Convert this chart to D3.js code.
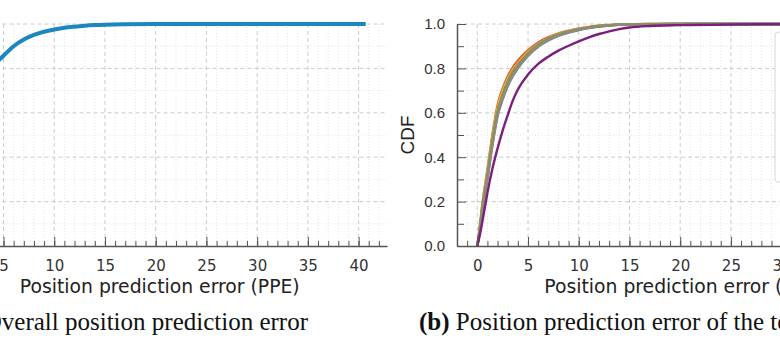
<!DOCTYPE html>
<html>
<head>
<meta charset="utf-8">
<title>Position prediction error CDF</title>
<script src="https://cdn.jsdelivr.net/npm/d3@7"></script>
<style>
body { margin: 0; background: #fff; }
.grid-minor line { stroke: #e3e3e3; stroke-dasharray: 1,2; }
.grid-major line { stroke: #cccccc; stroke-dasharray: 4,3; }
.axis path, .axis line { stroke: #555; }
.xaxis text { font-family: "DejaVu Sans", sans-serif; font-size: 15px; fill: #333; }
.yaxis text { font-family: "Liberation Sans", Arial, sans-serif; font-size: 15px; fill: #333; }
.xtitle { font-family: "DejaVu Sans", sans-serif; font-size: 18.8px; fill: #222; }
.ytitle { font-family: "Liberation Sans", Arial, sans-serif; font-size: 19px; fill: #222; }
.caption { font-family: "Liberation Serif", serif; font-size: 25px; fill: #111; }
</style>
</head>
<body>
<svg id="chart" width="780" height="348"></svg>
<script>

// (a) overall PPE, one curve
var overallX   = [0, 0.25, 0.5, 0.75, 1, 1.5, 2, 2.5, 3, 3.5, 4, 5, 6, 7, 8, 9, 10, 11, 12, 13, 14, 15, 17, 20, 25, 30, 40.7];
var overallCdf = [0, 0.08, 0.17, 0.245, 0.315, 0.47, 0.6, 0.675, 0.735, 0.78, 0.81, 0.857, 0.9, 0.93, 0.951, 0.965, 0.975, 0.983, 0.988, 0.992, 0.995, 0.997, 0.999, 1, 1, 1, 1];

// (b) per test set, same x grid for every curve
var testX = [0, 0.25, 0.5, 0.75, 1, 1.5, 2, 2.5, 3, 3.5, 4, 5, 6, 7, 8, 9, 10, 11, 12, 13, 14, 15, 17, 20, 25, 30, 43];
var cdfOrange = [0, 0.09, 0.19, 0.27, 0.345, 0.505, 0.635, 0.71, 0.765, 0.805, 0.835, 0.882, 0.917, 0.941, 0.958, 0.97, 0.98, 0.987, 0.993, 0.996, 0.998, 0.999, 1, 1, 1, 1, 1];
var cdfYellow = [0, 0.085, 0.185, 0.262, 0.335, 0.492, 0.622, 0.698, 0.753, 0.793, 0.823, 0.873, 0.91, 0.936, 0.955, 0.968, 0.978, 0.986, 0.992, 0.995, 0.997, 0.999, 1, 1, 1, 1, 1];
var cdfGreen  = [0, 0.08, 0.175, 0.25, 0.32, 0.475, 0.605, 0.68, 0.74, 0.785, 0.815, 0.868, 0.907, 0.934, 0.953, 0.966, 0.977, 0.985, 0.991, 0.995, 0.997, 0.998, 1, 1, 1, 1, 1];
var cdfTeal   = [0, 0.075, 0.17, 0.245, 0.315, 0.47, 0.6, 0.675, 0.735, 0.78, 0.812, 0.865, 0.905, 0.932, 0.951, 0.965, 0.976, 0.984, 0.99, 0.994, 0.997, 0.998, 0.999, 1, 1, 1, 1];
var cdfBlue   = [0, 0.068, 0.155, 0.23, 0.3, 0.455, 0.585, 0.66, 0.72, 0.765, 0.8, 0.856, 0.897, 0.926, 0.947, 0.961, 0.973, 0.982, 0.989, 0.993, 0.996, 0.998, 0.999, 1, 1, 1, 1];
var cdfTan    = [0, 0.07, 0.162, 0.237, 0.307, 0.462, 0.592, 0.667, 0.727, 0.772, 0.806, 0.86, 0.9, 0.929, 0.949, 0.963, 0.975, 0.984, 0.99, 0.994, 0.996, 0.998, 0.999, 1, 1, 1, 1];
var cdfGray   = [0, 0.078, 0.172, 0.248, 0.318, 0.472, 0.602, 0.678, 0.738, 0.782, 0.814, 0.866, 0.905, 0.932, 0.952, 0.965, 0.976, 0.984, 0.99, 0.994, 0.997, 0.998, 0.999, 1, 1, 1, 1];
var cdfPurple = [0, 0.05, 0.11, 0.175, 0.24, 0.35, 0.44, 0.52, 0.59, 0.655, 0.705, 0.772, 0.82, 0.853, 0.88, 0.902, 0.922, 0.94, 0.955, 0.967, 0.977, 0.984, 0.991, 0.995, 0.998, 0.999, 1];

var testSeries = [
  { name: "orange", cdf: cdfOrange, color: "#e3602f" },
  { name: "yellow", cdf: cdfYellow, color: "#e2b72c" },
  { name: "green",  cdf: cdfGreen,  color: "#7aa843" },
  { name: "teal",   cdf: cdfTeal,   color: "#3a9fae" },
  { name: "blue",   cdf: cdfBlue,   color: "#5a80bd" },
  { name: "tan",    cdf: cdfTan,    color: "#a98b5c" },
  { name: "gray",   cdf: cdfGray,   color: "#8b8d6c" },
  { name: "purple", cdf: cdfPurple, color: "#7b1f7f" }
];

var xTicks = [0, 5, 10, 15, 20, 25, 30, 35, 40];
var yTicks = [0, 0.2, 0.4, 0.6, 0.8, 1.0];

var xTitle = "Position prediction error (PPE)";
var yTitle = "CDF";

var svg = d3.select("#chart");

var xDomain = [-2, 42.8],
    plotW = 454.5,
    plotTop = 24,
    plotBottom = 246;

var y = d3.scaleLinear().domain([0, 1]).range([plotBottom, plotTop]);

function drawPanel(left, lines, lineWidth, showY, caption, captionBold, captionX, captionAnchor) {
  var x = d3.scaleLinear().domain(xDomain).range([left, left + plotW]);
  var g = svg.append("g");

  // grid
  var minor = g.append("g").attr("class", "grid-minor");
  minor.selectAll("line.v").data(d3.range(-1, 43).filter(function(d) { return d % 5 != 0; }))
    .enter().append("line")
      .attr("x1", function(d) { return x(d); }).attr("x2", function(d) { return x(d); })
      .attr("y1", plotTop).attr("y2", plotBottom);
  minor.selectAll("line.h").data([0.1, 0.3, 0.5, 0.7, 0.9])
    .enter().append("line")
      .attr("x1", x.range()[0]).attr("x2", x.range()[1])
      .attr("y1", function(d) { return y(d); }).attr("y2", function(d) { return y(d); });

  var major = g.append("g").attr("class", "grid-major");
  major.selectAll("line.v").data(xTicks)
    .enter().append("line")
      .attr("x1", function(d) { return x(d); }).attr("x2", function(d) { return x(d); })
      .attr("y1", plotTop).attr("y2", plotBottom);
  major.selectAll("line.h").data(yTicks.slice(1))
    .enter().append("line")
      .attr("x1", x.range()[0]).attr("x2", x.range()[1])
      .attr("y1", function(d) { return y(d); }).attr("y2", function(d) { return y(d); });

  // curves
  var line = d3.line().curve(d3.curveMonotoneX);
  lines.forEach(function(s) {
    g.append("path")
      .datum(s.x.map(function(v, i) { return [x(v), y(s.cdf[i])]; }))
      .attr("fill", "none")
      .attr("stroke", s.color)
      .attr("stroke-width", lineWidth)
      .attr("stroke-linejoin", "round")
      .attr("d", line);
  });

  // axes, ticks point inward
  g.append("g").attr("class", "axis xaxis")
    .attr("transform", "translate(0," + plotBottom + ")")
    .call(d3.axisBottom(x).tickValues(d3.range(-1, 43)).tickSize(-5).tickFormat(""))
    .call(function(a) { a.select(".domain").remove(); });
  g.append("g").attr("class", "axis xaxis")
    .attr("transform", "translate(0," + plotBottom + ")")
    .call(d3.axisBottom(x).tickValues(xTicks.filter(function(d) { return x(d) > -5; }))
      .tickSize(-9).tickPadding(14).tickSizeOuter(0).tickFormat(d3.format("d")))
    .call(function(a) { a.select(".domain").attr("stroke-width", 1.5); });

  if (showY) {
    g.append("g").attr("class", "axis yaxis")
      .attr("transform", "translate(" + left + ",0)")
      .call(d3.axisLeft(y).tickValues([0.1, 0.3, 0.5, 0.7, 0.9]).tickSize(-7).tickFormat(""))
      .call(function(a) { a.select(".domain").remove(); });
    g.append("g").attr("class", "axis yaxis")
      .attr("transform", "translate(" + left + ",0)")
      .call(d3.axisLeft(y).tickValues(yTicks).tickSize(-9).tickPadding(12).tickSizeOuter(0).tickFormat(d3.format(".1f")))
      .call(function(a) { a.select(".domain").attr("stroke-width", 1.5); });

    g.append("text").attr("class", "ytitle")
      .attr("transform", "translate(" + (left - 43) + "," + (plotTop + plotBottom) / 2 + ") rotate(-90)")
      .attr("text-anchor", "middle")
      .text(yTitle);
  }

  g.append("text").attr("class", "xtitle")
    .attr("x", left + plotW / 2).attr("y", 293)
    .attr("text-anchor", "middle")
    .text(xTitle);

  var cap = svg.append("text").attr("class", "caption")
    .attr("x", captionX).attr("y", 330)
    .attr("text-anchor", captionAnchor);
  cap.append("tspan").attr("font-weight", "bold").text(captionBold);
  cap.append("tspan").text(" " + caption);

  return { g: g, x: x };
}

drawPanel(-67.5,
  [{ x: overallX, cdf: overallCdf, color: "#1b87c1" }],
  4, false,
  "Overall position prediction error", "(a)", 308, "end");

var b = drawPanel(457,
  testSeries.map(function(s) { return { x: testX, cdf: s.cdf, color: s.color }; }),
  2.4, true,
  "Position prediction error of the test sets", "(b)", 419, "start");

// legend box (entries fall outside the visible area)
b.g.append("rect")
  .attr("x", 775).attr("y", 32)
  .attr("width", 150).attr("height", 150)
  .attr("rx", 3)
  .attr("fill", "#fff")
  .attr("stroke", "#d6d6d6");

</script>
</body>
</html>
